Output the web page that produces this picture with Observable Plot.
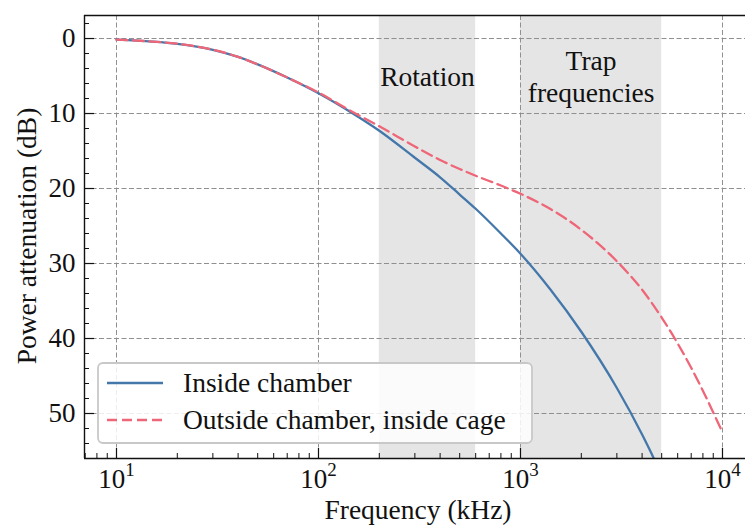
<!DOCTYPE html>
<html><head><meta charset="utf-8">
<script src="https://cdn.jsdelivr.net/npm/d3@7"></script>
<script src="https://cdn.jsdelivr.net/npm/@observablehq/plot@0.6"></script>
<style>html,body{margin:0;padding:0;background:#fff;overflow:hidden} svg{display:block}</style>
</head><body><div id="chart"></div>
<script>
// ---- data ----
const seriesNames = ["Inside chamber", "Outside chamber, inside cage"];
const freqInside = [10, 15, 20, 30, 40, 50, 70, 100, 150, 200, 300, 400, 500, 600, 800, 1000, 1400, 2000, 3000, 4000, 4500, 5000];
const attInside  = [0.15, 0.4, 0.7, 1.5, 2.45, 3.45, 5.2, 7.3, 10.1, 12.3, 15.9, 18.5, 20.8, 22.7, 26.0, 28.7, 33.4, 39.1, 46.6, 52.8, 55.6, 58.3];
const freqOutside = [10, 15, 20, 30, 40, 50, 70, 100, 150, 200, 300, 400, 500, 600, 800, 1000, 1400, 2000, 3000, 4000, 5000, 7000, 10000];
const attOutside  = [0.15, 0.4, 0.7, 1.5, 2.45, 3.45, 5.2, 7.2, 9.9, 11.7, 14.4, 16.2, 17.4, 18.3, 19.6, 20.7, 22.7, 25.5, 29.7, 33.5, 37.2, 43.9, 52.5];
const bandLabels = ["Rotation", "Trap\nfrequencies"];
const bandLow  = [200, 1000];
const bandHigh = [600, 5000];
const xMajorTicks = [10, 100, 1000, 10000];
const xMinorTicks = [7, 8, 9, 20, 30, 40, 50, 60, 70, 80, 90, 200, 300, 400, 500, 600, 700, 800, 900, 2000, 3000, 4000, 5000, 6000, 7000, 8000, 9000];
const yMajorTicks = [0, 10, 20, 30, 40, 50];
const yMinorTicks = [-2, 2, 4, 6, 8, 12, 14, 16, 18, 22, 24, 26, 28, 32, 34, 36, 38, 42, 44, 46, 48, 52, 54];
const xDomain = [Math.pow(10, 0.8416), Math.pow(10, 4.1139)];
const yDomain = [-3.07, 56];

// ---- tables ----
const inside = freqInside.map((f, i) => ({f, att: attInside[i]}));
const outside = freqOutside.map((f, i) => ({f, att: attOutside[i]}));
const bands = bandLabels.map((label, i) => ({label, lo: bandLow[i], hi: bandHigh[i]}));

const FONT = "'Liberation Serif', 'DejaVu Serif', serif";
const FS = 27.5, FT = 27;
const W = 745, H = 529, ML = 84, MR = 0, MT = 15, MB = 71;
const PW = W - ML - MR, PH = H - MT - MB;
const BLUE = "#4477AA", RED = "#EE6677", GRID = "#8f8f8f", INK = "#111";

const plot = Plot.plot({
  width: W, height: H,
  marginLeft: ML, marginRight: MR, marginTop: MT, marginBottom: MB,
  style: {fontFamily: FONT, fontSize: FS + "px", color: INK, background: "#fff", overflow: "hidden"},
  x: {type: "log", domain: xDomain},
  y: {domain: yDomain, reverse: true},
  marks: [
    Plot.rect(bands, {x1: "lo", x2: "hi", fill: "#e5e5e5"}),
    Plot.ruleX(xMajorTicks, {stroke: GRID, strokeWidth: 1, strokeDasharray: "5,2.5"}),
    Plot.ruleY(yMajorTicks, {stroke: GRID, strokeWidth: 1, strokeDasharray: "5,2.5"}),
    Plot.line(inside, {x: "f", y: "att", stroke: BLUE, strokeWidth: 2.3, curve: "monotone-x", clip: "frame"}),
    Plot.line(outside, {x: "f", y: "att", stroke: RED, strokeWidth: 2.3, strokeDasharray: "11,5.5", curve: "monotone-x", clip: "frame"}),
    Plot.text(bands, {x: d => Math.sqrt(d.lo * d.hi), y: 5, text: "label", lineHeight: 1.15, fontSize: FS, fontFamily: FONT, fill: INK}),
    Plot.tickX(xMinorTicks, {x: d => d, insetTop: PH - 5, stroke: INK, strokeWidth: 1}),
    Plot.tickX(xMajorTicks, {x: d => d, insetTop: PH - 10, stroke: INK, strokeWidth: 1.2}),
    Plot.tickY(yMinorTicks, {y: d => d, insetRight: PW - 5, stroke: INK, strokeWidth: 1}),
    Plot.tickY(yMajorTicks, {y: d => d, insetRight: PW - 10, stroke: INK, strokeWidth: 1.2}),
    Plot.axisX({ticks: xMajorTicks, tickSize: 0, tickPadding: 10, fontSize: FT, fontFamily: FONT, label: null,
      tickFormat: d => "10^" + Math.round(Math.log10(d))}),
    Plot.axisY({ticks: yMajorTicks, tickSize: 0, tickPadding: 9, fontSize: FT, fontFamily: FONT, label: null}),
    Plot.ruleY([yDomain[1]], {stroke: INK, strokeWidth: 1.4}),
    Plot.ruleY([yDomain[0]], {stroke: INK, strokeWidth: 1.4}),
    Plot.ruleX([xDomain[0]], {stroke: INK, strokeWidth: 1.4})
  ]
});

document.getElementById("chart").append(plot);
const svg = d3.select(plot);

// superscript exponents on x tick labels
svg.selectAll('g[aria-label="x-axis tick label"] text').each(function() {
  const [b, e] = this.textContent.split("^");
  const s = d3.select(this);
  s.text(null);
  s.append("tspan").text(b);
  s.append("tspan").attr("dy", -12).attr("font-size", 19).text(e);
});

// axis titles
svg.append("text").attr("x", 418).attr("y", 519).attr("text-anchor", "middle")
  .attr("font-family", FONT).attr("font-size", FS).attr("fill", INK).text("Frequency (kHz)");
svg.append("text").attr("transform", "translate(36,236) rotate(-90)").attr("text-anchor", "middle")
  .attr("font-family", FONT).attr("font-size", FS).attr("fill", INK).text("Power attenuation (dB)");

// legend
const lg = svg.append("g").attr("font-family", FONT).attr("font-size", FS).attr("fill", INK).attr("text-anchor", "start");
lg.append("rect").attr("x", 98).attr("y", 363).attr("width", 434).attr("height", 80).attr("rx", 5)
  .attr("fill", "#fff").attr("fill-opacity", 0.85).attr("stroke", "#c8c8c8").attr("stroke-width", 1.8);
const styles = [{stroke: BLUE, dash: null}, {stroke: RED, dash: "10,5"}];
seriesNames.forEach((name, i) => {
  const cy = 383 + i * 37;
  lg.append("line").attr("x1", 107).attr("x2", 163).attr("y1", cy).attr("y2", cy)
    .attr("stroke", styles[i].stroke).attr("stroke-width", 2.3).attr("stroke-dasharray", styles[i].dash);
  lg.append("text").attr("x", 183).attr("y", cy + 9).attr("text-anchor", "start").text(name);
});
</script>
</body></html>
